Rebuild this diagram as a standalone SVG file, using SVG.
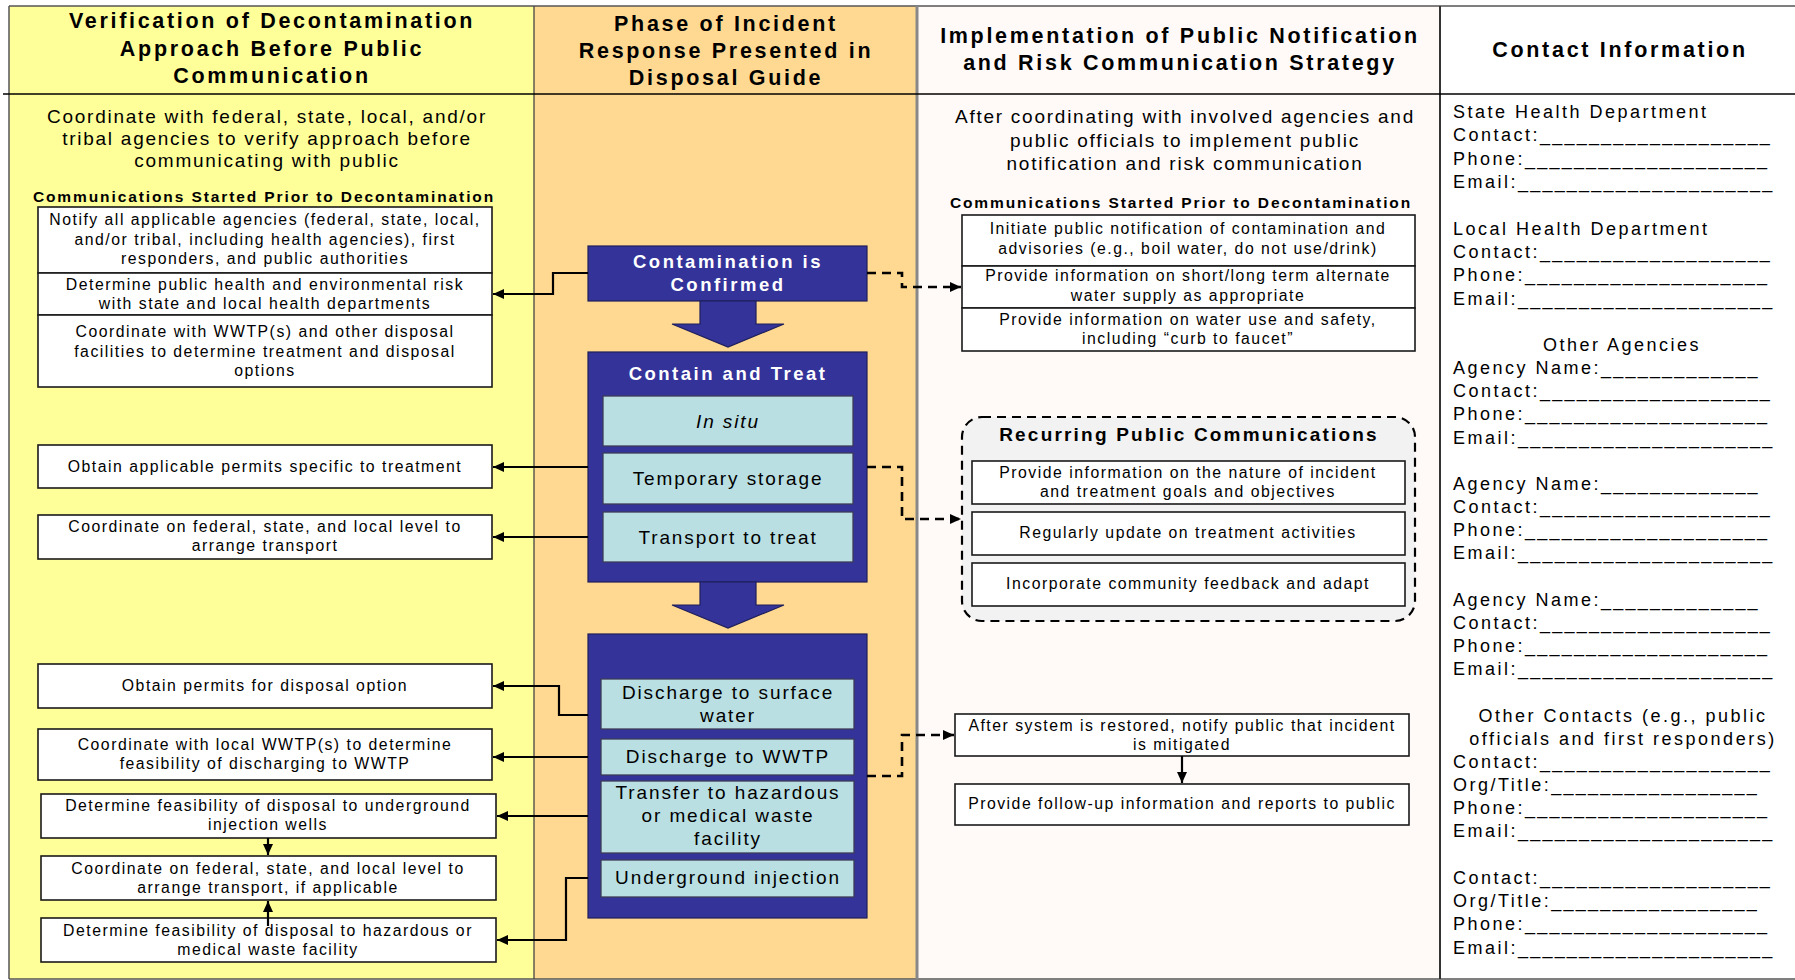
<svg xmlns="http://www.w3.org/2000/svg" width="1795" height="980" viewBox="0 0 1795 980">
<defs>
<style>
text{font-family:"Liberation Sans",Arial,sans-serif;fill:#000}
.hdr{font-size:21.5px;font-weight:bold;letter-spacing:2.7px;text-anchor:middle}
.intro{font-size:19px;letter-spacing:1.75px;text-anchor:middle}
.sec{font-size:15.5px;font-weight:bold;letter-spacing:1.9px;text-anchor:middle}
.bt{font-size:15.8px;letter-spacing:1.5px;text-anchor:middle}
.wb{fill:#fff;stroke:#1a1a1a;stroke-width:1.6}
.dk{fill:#333399;stroke:#1e1e5a;stroke-width:1.2}
.lt{fill:#b9dfe3;stroke:#3c3c5a;stroke-width:1.3}
.dt{font-size:18.5px;font-weight:bold;letter-spacing:2.5px;text-anchor:middle;fill:#fff}
.lbt{font-size:19px;letter-spacing:1.9px;text-anchor:middle}
.ct{font-size:18px;letter-spacing:2.5px}
.u{letter-spacing:2.2px}
.cc{font-size:18px;letter-spacing:2.5px;text-anchor:middle}
.rt{font-size:19px;font-weight:bold;letter-spacing:2.2px;text-anchor:middle}
.con{fill:none;stroke:#000;stroke-width:2.2}
.dash{fill:none;stroke:#000;stroke-width:2.6;stroke-dasharray:9 6}
</style>
<marker id="ah" markerUnits="userSpaceOnUse" markerWidth="12" markerHeight="10" refX="11" refY="5" orient="auto">
<path d="M0,0 L11,5 L0,10 z" fill="#000" stroke="none"/>
</marker>
</defs>

<g id="background">
<rect x="9" y="6" width="525" height="973" fill="#ffff99"/>
<rect x="534" y="6" width="383" height="973" fill="#ffd991"/>
<rect x="917" y="6" width="523" height="973" fill="#fffaf8"/>
<rect x="1440" y="6" width="355" height="973" fill="#ffffff"/>
<line x1="9" y1="6" x2="1795" y2="6" stroke="#555" stroke-width="1.5"/>
<line x1="9" y1="6" x2="9" y2="979" stroke="#555" stroke-width="1.5"/>
<line x1="9" y1="979" x2="1795" y2="979" stroke="#555" stroke-width="1.5"/>
<line x1="534" y1="6" x2="534" y2="979" stroke="#444" stroke-width="1.3"/>
<line x1="917" y1="6" x2="917" y2="979" stroke="#888" stroke-width="3"/>
<line x1="1440" y1="6" x2="1440" y2="979" stroke="#333" stroke-width="2"/>
<line x1="3" y1="94" x2="1795" y2="94" stroke="#000" stroke-width="1.5"/>
</g>

<g id="headers">
<text class="hdr" x="272"><tspan x="272" y="28">Verification of Decontamination</tspan><tspan x="272" y="56">Approach Before Public</tspan><tspan x="272" y="83">Communication</tspan></text>
<text class="hdr" x="726"><tspan x="726" y="31">Phase of Incident</tspan><tspan x="726" y="58">Response Presented in</tspan><tspan x="726" y="85">Disposal Guide</tspan></text>
<text class="hdr" x="1180"><tspan x="1180" y="43">Implementation of Public Notification</tspan><tspan x="1180" y="70">and Risk Communication Strategy</tspan></text>
<text class="hdr" x="1620" y="57">Contact Information</text>
</g>

<g id="left-intro">
<text class="intro"><tspan x="267" y="123">Coordinate with federal, state, local, and/or</tspan><tspan x="267" y="145">tribal agencies to verify approach before</tspan><tspan x="267" y="167">communicating with public</tspan></text>
<text class="sec" x="264" y="202">Communications Started Prior to Decontamination</text>
</g>

<g id="l1"><rect class="wb" x="38" y="207" width="454" height="66"/><text class="bt"><tspan x="265" y="225">Notify all applicable agencies (federal, state, local,</tspan><tspan x="265" y="245">and/or tribal, including health agencies), first</tspan><tspan x="265" y="264">responders, and public authorities</tspan></text></g>
<g id="l2"><rect class="wb" x="38" y="273" width="454" height="42"/><text class="bt"><tspan x="265" y="290">Determine public health and environmental risk</tspan><tspan x="265" y="309">with state and local health departments</tspan></text></g>
<g id="l3"><rect class="wb" x="38" y="315" width="454" height="72"/><text class="bt"><tspan x="265" y="337">Coordinate with WWTP(s) and other disposal</tspan><tspan x="265" y="357">facilities to determine treatment and disposal</tspan><tspan x="265" y="376">options</tspan></text></g>
<g id="l4"><rect class="wb" x="38" y="445" width="454" height="43"/><text class="bt" x="265" y="472">Obtain applicable permits specific to treatment</text></g>
<g id="l5"><rect class="wb" x="38" y="515" width="454" height="44"/><text class="bt"><tspan x="265" y="532">Coordinate on federal, state, and local level to</tspan><tspan x="265" y="551">arrange transport</tspan></text></g>
<g id="l6"><rect class="wb" x="38" y="664" width="454" height="44"/><text class="bt" x="265" y="691">Obtain permits for disposal option</text></g>
<g id="l7"><rect class="wb" x="38" y="729" width="454" height="51"/><text class="bt"><tspan x="265" y="750">Coordinate with local WWTP(s) to determine</tspan><tspan x="265" y="769">feasibility of discharging to WWTP</tspan></text></g>
<g id="l8"><rect class="wb" x="41" y="794" width="455" height="44"/><text class="bt"><tspan x="268" y="811">Determine feasibility of disposal to underground</tspan><tspan x="268" y="830">injection wells</tspan></text></g>
<g id="l9"><rect class="wb" x="41" y="856" width="455" height="44"/><text class="bt"><tspan x="268" y="874">Coordinate on federal, state, and local level to</tspan><tspan x="268" y="893">arrange transport, if applicable</tspan></text></g>
<g id="l10"><rect class="wb" x="41" y="918" width="455" height="44"/><text class="bt"><tspan x="268" y="936">Determine feasibility of disposal to hazardous or</tspan><tspan x="268" y="955">medical waste facility</tspan></text></g>

<g id="contamination">
<rect class="dk" x="588" y="246" width="279" height="55"/>
<text class="dt"><tspan x="728" y="268">Contamination is</tspan><tspan x="728" y="291">Confirmed</tspan></text>
</g>
<g id="block-arrow-1"><path class="dk" d="M700,301 H756 V324 H784 L728,347 L672,324 H700 Z"/></g>
<g id="contain-treat">
<rect class="dk" x="588" y="352" width="279" height="230"/>
<text class="dt" x="728" y="380">Contain and Treat</text>
<rect class="lt" x="603" y="396" width="250" height="50"/>
<text class="lbt" x="728" y="428" font-style="italic">In situ</text>
<rect class="lt" x="603" y="453" width="250" height="51"/>
<text class="lbt" x="728" y="485">Temporary storage</text>
<rect class="lt" x="603" y="512" width="250" height="50"/>
<text class="lbt" x="728" y="544">Transport to treat</text>
</g>
<g id="block-arrow-2"><path class="dk" d="M700,582 H756 V605 H784 L728,628 L672,605 H700 Z"/></g>
<g id="disposal">
<rect class="dk" x="588" y="634" width="279" height="284"/>
<rect class="lt" x="601" y="679" width="253" height="50"/>
<text class="lbt"><tspan x="728" y="699">Discharge to surface</tspan><tspan x="728" y="722">water</tspan></text>
<rect class="lt" x="601" y="739" width="253" height="36"/>
<text class="lbt" x="728" y="763">Discharge to WWTP</text>
<rect class="lt" x="601" y="781" width="253" height="72"/>
<text class="lbt"><tspan x="728" y="799">Transfer to hazardous</tspan><tspan x="728" y="822">or medical waste</tspan><tspan x="728" y="845">facility</tspan></text>
<rect class="lt" x="601" y="860" width="253" height="37"/>
<text class="lbt" x="728" y="884">Underground injection</text>
</g>

<g id="pink-intro">
<text class="intro"><tspan x="1185" y="123">After coordinating with involved agencies and</tspan><tspan x="1185" y="147">public officials to implement public</tspan><tspan x="1185" y="170">notification and risk communication</tspan></text>
<text class="sec" x="1181" y="208">Communications Started Prior to Decontamination</text>
</g>
<g id="pA"><rect class="wb" x="962" y="215" width="453" height="51"/><text class="bt"><tspan x="1188" y="234">Initiate public notification of contamination and</tspan><tspan x="1188" y="254">advisories (e.g., boil water, do not use/drink)</tspan></text></g>
<g id="pB"><rect class="wb" x="962" y="266" width="453" height="42"/><text class="bt"><tspan x="1188" y="281">Provide information on short/long term alternate</tspan><tspan x="1188" y="301">water supply as appropriate</tspan></text></g>
<g id="pC"><rect class="wb" x="962" y="308" width="453" height="43"/><text class="bt"><tspan x="1188" y="325">Provide information on water use and safety,</tspan><tspan x="1188" y="344">including “curb to faucet”</tspan></text></g>

<g id="recurring">
<rect x="962" y="417" width="453" height="204" rx="20" ry="20" fill="#f2f2f2" stroke="#000" stroke-width="2.2" stroke-dasharray="9 6"/>
<text class="rt" x="1189" y="441">Recurring Public Communications</text>
<rect class="wb" x="972" y="461" width="433" height="43"/>
<text class="bt"><tspan x="1188" y="478">Provide information on the nature of incident</tspan><tspan x="1188" y="497">and treatment goals and objectives</tspan></text>
<rect class="wb" x="972" y="512" width="433" height="43"/>
<text class="bt" x="1188" y="538">Regularly update on treatment activities</text>
<rect class="wb" x="972" y="563" width="433" height="43"/>
<text class="bt" x="1188" y="589">Incorporate community feedback and adapt</text>
</g>

<g id="restored"><rect class="wb" x="955" y="714" width="454" height="42"/><text class="bt"><tspan x="1182" y="731">After system is restored, notify public that incident</tspan><tspan x="1182" y="750">is mitigated</tspan></text></g>
<g id="followup"><rect class="wb" x="955" y="784" width="454" height="41"/><text class="bt" x="1182" y="809">Provide follow-up information and reports to public</text></g>

<g id="contacts">
<text class="ct" x="1453" y="118">State Health Department</text>
<text class="ct" x="1453" y="141">Contact:<tspan class="u">___________________</tspan></text>
<text class="ct" x="1453" y="165">Phone:<tspan class="u">____________________</tspan></text>
<text class="ct" x="1453" y="188">Email:<tspan class="u">_____________________</tspan></text>
<text class="ct" x="1453" y="235">Local Health Department</text>
<text class="ct" x="1453" y="258">Contact:<tspan class="u">___________________</tspan></text>
<text class="ct" x="1453" y="281">Phone:<tspan class="u">____________________</tspan></text>
<text class="ct" x="1453" y="305">Email:<tspan class="u">_____________________</tspan></text>
<text class="cc" x="1622" y="351">Other Agencies</text>
<text class="ct" x="1453" y="374">Agency Name:<tspan class="u">_____________</tspan></text>
<text class="ct" x="1453" y="397">Contact:<tspan class="u">___________________</tspan></text>
<text class="ct" x="1453" y="420">Phone:<tspan class="u">____________________</tspan></text>
<text class="ct" x="1453" y="444">Email:<tspan class="u">_____________________</tspan></text>
<text class="ct" x="1453" y="490">Agency Name:<tspan class="u">_____________</tspan></text>
<text class="ct" x="1453" y="513">Contact:<tspan class="u">___________________</tspan></text>
<text class="ct" x="1453" y="536">Phone:<tspan class="u">____________________</tspan></text>
<text class="ct" x="1453" y="559">Email:<tspan class="u">_____________________</tspan></text>
<text class="ct" x="1453" y="606">Agency Name:<tspan class="u">_____________</tspan></text>
<text class="ct" x="1453" y="629">Contact:<tspan class="u">___________________</tspan></text>
<text class="ct" x="1453" y="652">Phone:<tspan class="u">____________________</tspan></text>
<text class="ct" x="1453" y="675">Email:<tspan class="u">_____________________</tspan></text>
<text class="cc" x="1623" y="722">Other Contacts (e.g., public</text>
<text class="cc" x="1623" y="745">officials and first responders)</text>
<text class="ct" x="1453" y="768">Contact:<tspan class="u">___________________</tspan></text>
<text class="ct" x="1453" y="791">Org/Title:<tspan class="u">_________________</tspan></text>
<text class="ct" x="1453" y="814">Phone:<tspan class="u">____________________</tspan></text>
<text class="ct" x="1453" y="837">Email:<tspan class="u">_____________________</tspan></text>
<text class="ct" x="1453" y="884">Contact:<tspan class="u">___________________</tspan></text>
<text class="ct" x="1453" y="907">Org/Title:<tspan class="u">_________________</tspan></text>
<text class="ct" x="1453" y="930">Phone:<tspan class="u">____________________</tspan></text>
<text class="ct" x="1453" y="954">Email:<tspan class="u">_____________________</tspan></text>
</g>

<g id="connectors">
<path class="con" d="M588,273 H553 V294 H493" marker-end="url(#ah)"/>
<path class="con" d="M588,467 H493" marker-end="url(#ah)"/>
<path class="con" d="M588,537 H493" marker-end="url(#ah)"/>
<path class="con" d="M588,715 H559 V686 H493" marker-end="url(#ah)"/>
<path class="con" d="M588,757 H493" marker-end="url(#ah)"/>
<path class="con" d="M588,816 H497" marker-end="url(#ah)"/>
<path class="con" d="M588,878 H566 V940 H497" marker-end="url(#ah)"/>
<path class="con" d="M268,838 V855" marker-end="url(#ah)"/>
<path class="con" d="M268,926 V901" marker-end="url(#ah)"/>
<path class="dash" d="M867,273 H902 V287 H961" marker-end="url(#ah)"/>
<path class="dash" d="M867,467 H902 V519 H961" marker-end="url(#ah)"/>
<path class="dash" d="M867,776 H902 V735 H954" marker-end="url(#ah)"/>
<path class="con" d="M1182,756 V783" stroke-width="2.6" marker-end="url(#ah)"/>
</g>
</svg>
